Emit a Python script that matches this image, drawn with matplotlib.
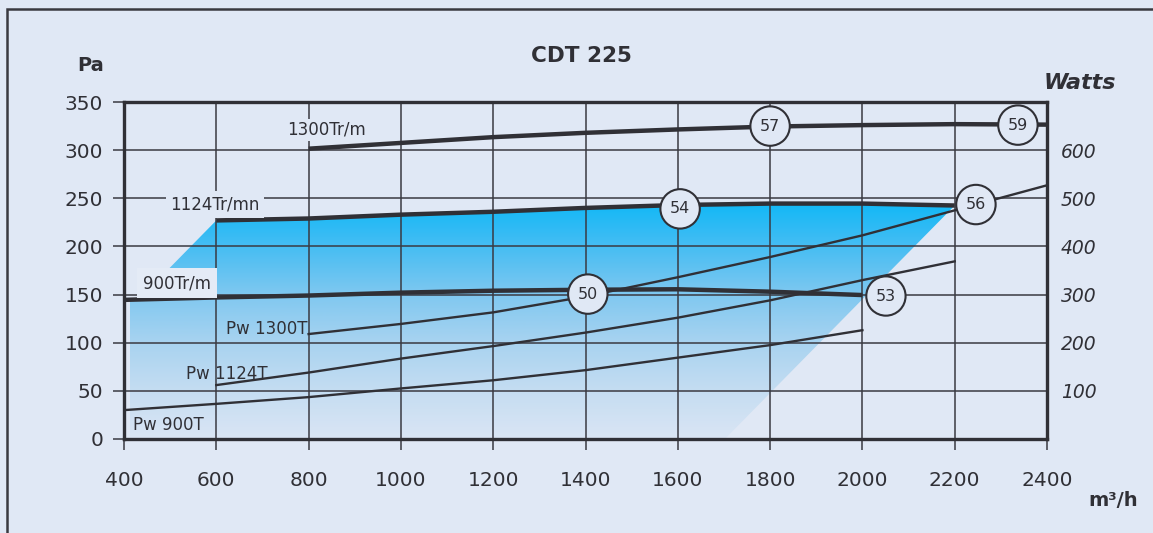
import matplotlib
matplotlib.use('Agg')
import matplotlib.pyplot as plt
import numpy as np
from matplotlib.colors import LinearSegmentedColormap
from matplotlib.patches import Polygon, Rectangle

# données (débit m3/h, pression Pa, puissance W)
flow_1300 = [800, 1000, 1200, 1400, 1600, 1800, 2000, 2200, 2400]
pa_1300 = [301.5, 307.5, 313.5, 318, 321.5, 324.5, 326, 327, 326.5]

flow_1124 = [600, 800, 1000, 1200, 1400, 1600, 1800, 2000, 2200]
pa_1124 = [227, 229, 233, 236, 240, 243, 244.5, 244.5, 242.5]

flow_900 = [400, 600, 800, 1000, 1200, 1400, 1600, 1800, 2000]
pa_900 = [144.5, 147, 149, 152, 154, 155, 155.5, 153, 149.5]

flow_pw1300 = [800, 1000, 1200, 1400, 1600, 1800, 2000, 2200, 2400]
pw_1300 = [218, 239, 263, 296, 336, 378, 423, 475, 527]

flow_pw1124 = [600, 800, 1000, 1200, 1400, 1600, 1800, 2000, 2200]
pw_1124 = [112, 138, 167, 193, 221, 252, 288, 330, 369]

flow_pw900 = [400, 600, 800, 1000, 1200, 1400, 1600, 1800, 2000]
pw_900 = [60, 73, 87, 105, 122, 143, 169, 195, 226]

# rendements (bulles)
eff_labels = ['57', '59', '54', '56', '50', '53']
eff_flow = [1800, 2337, 1605, 2246, 1405, 2051]
eff_pa = [325, 326, 239, 243.5, 150.5, 148.5]

x_ticks = [400, 600, 800, 1000, 1200, 1400, 1600, 1800, 2000, 2200, 2400]
y_ticks = [0, 50, 100, 150, 200, 250, 300, 350]
w_ticks = [100, 200, 300, 400, 500, 600]

bg = '#e0e8f5'
ink = '#303036'

fig = plt.figure(figsize=(11.53, 5.33), dpi=100)
fig.patch.set_facecolor(bg)
fig.patches.append(Rectangle((7 / 1153, -0.1), 1.2, 1.1 - 9 / 533, transform=fig.transFigure,
                             fill=False, edgecolor='#3a3a40', linewidth=1.8, zorder=0))

ax = fig.add_axes([124 / 1153, 1 - 439 / 533, 923 / 1153, 337 / 533])
ax.set_facecolor(bg)
ax.set_xlim(400, 2400)
ax.set_ylim(0, 350)

# zone bleue (dégradé)
cmap = LinearSegmentedColormap.from_list('zone', [(0, '#dae5f4'), (0.2, '#c5ddf2'), (0.41, '#a8d3f0'),
                                                  (0.61, '#80c8f0'), (0.82, '#45bdf3'), (1, '#12b8f6')])
grad = np.linspace(0, 1, 256).reshape(-1, 1)
im = ax.imshow(grad, extent=[413, 2200, 0, 245], origin='lower', aspect='auto', cmap=cmap, zorder=1)
zone = [(413, 0), (413, 145), (432, 145)] + list(zip(flow_1124, pa_1124)) + [(1702, 0)]
poly = Polygon(zone, closed=True, facecolor='none', edgecolor='none', transform=ax.transData)
ax.add_patch(poly)
im.set_clip_path(poly)

# grille
ax.grid(True, color='#3a3a42', linewidth=1.1, zorder=2)
ax.set_axisbelow(False)
ax.set_xticks(x_ticks)
ax.set_yticks(y_ticks)
ax.tick_params(axis='both', length=8, width=1.1, color='#3a3a42', labelsize=14.5, labelcolor=ink)
ax.tick_params(axis='x', pad=15)
ax.tick_params(axis='y', pad=7)
for s in ax.spines.values():
    s.set_linewidth(2.4)
    s.set_color(ink)
    s.set_zorder(6)

# courbes de pression
ax.plot(flow_1300, pa_1300, color=ink, linewidth=3.2, zorder=3, solid_capstyle='butt')
ax.plot(flow_1124, pa_1124, color=ink, linewidth=3.2, zorder=3, solid_capstyle='butt')
ax.plot(flow_900, pa_900, color=ink, linewidth=3.2, zorder=3, solid_capstyle='butt')

# courbes de puissance (échelle Watts = 2 x Pa)
ax.plot(flow_pw1300, np.array(pw_1300) / 2, color=ink, linewidth=1.7, zorder=3)
ax.plot(flow_pw1124, np.array(pw_1124) / 2, color=ink, linewidth=1.7, zorder=3)
ax.plot(flow_pw900, np.array(pw_900) / 2, color=ink, linewidth=1.7, zorder=3)

# étiquettes des courbes
ax.text(838, 321, '1300Tr/m', fontsize=12, color=ink, ha='center', va='center', zorder=4,
        bbox=dict(boxstyle='square,pad=0.1', facecolor=bg, edgecolor='none'))
ax.text(597, 243.5, '1124Tr/mn', fontsize=12, color=ink, ha='center', va='center', zorder=4,
        bbox=dict(boxstyle='square,pad=0.25', facecolor=bg, edgecolor='none'))
ax.text(515, 162, '900Tr/m', fontsize=12, color=ink, ha='center', va='center', zorder=4,
        bbox=dict(boxstyle='square,pad=0.35', facecolor='#e4ebf6', edgecolor='none'))
ax.text(798, 114, 'Pw 1300T', fontsize=12, color=ink, ha='right', va='center', zorder=4)
ax.text(623, 67.5, 'Pw 1124T', fontsize=12, color=ink, ha='center', va='center', zorder=4)
ax.text(497, 14.5, 'Pw 900T', fontsize=12, color=ink, ha='center', va='center', zorder=4)

for lab, fx, py in zip(eff_labels, eff_flow, eff_pa):
    ax.text(fx, py, lab, fontsize=11.5, color=ink, ha='center', va='center', zorder=7,
            bbox=dict(boxstyle='circle,pad=0.6', facecolor=bg, edgecolor=ink, linewidth=1.5))

# axe Watts
sec = ax.secondary_yaxis('right', functions=(lambda p: p * 2, lambda w: w / 2))
sec.set_yticks(w_ticks)
sec.tick_params(length=0, pad=10, labelsize=13.5, labelcolor=ink)
for t in sec.get_yticklabels():
    t.set_fontstyle('italic')
sec.spines['right'].set_visible(False)

fig.text(581 / 1153, 1 - 56 / 533, 'CDT 225', fontsize=15.5, fontweight='bold', color=ink, ha='center', va='center')
fig.text(91 / 1153, 1 - 66 / 533, 'Pa', fontsize=14, fontweight='bold', color=ink, ha='center', va='center')
fig.text(1080 / 1153, 1 - 83 / 533, 'Watts', fontsize=16, fontweight='bold', fontstyle='italic', color=ink,
         ha='center', va='center')
fig.text(1113 / 1153, 1 - 500 / 533, 'm³/h', fontsize=14, fontweight='bold', color=ink, ha='center', va='center')

fig.savefig('out.png', dpi=100, facecolor=bg)
